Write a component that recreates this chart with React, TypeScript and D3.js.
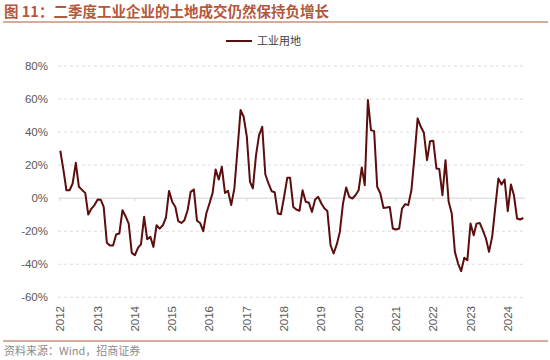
import React from "react";
import * as d3 from "d3";

const title = "图 11：二季度工业企业的土地成交仍然保持负增长";
const source = "资料来源：Wind，招商证券";
const seriesName = "工业用地";
const startMonth = new Date(2012, 0, 1);
const endMonth = new Date(2024, 5, 1);
const yTicks = [-60, -40, -20, 0, 20, 40, 60, 80];
const yearLabels = ["2012", "2013", "2014", "2015", "2016", "2017", "2018", "2019", "2020", "2021", "2022", "2023", "2024"];

// monthly YoY (%) Jan 2012 – Jun 2024
const values = [
  28.7, 17, 4.8, 4.8, 8.9, 21.4, 6.9, 5, 3.2, -9.9, -6.3, -4.2,
  -0.8, -1, -5.3, -27, -28.7, -28.7, -22, -21.4, -7.3, -10.9, -15.4, -33.1,
  -34.5, -29.9, -28, -11.3, -24.8, -23.4, -29.5, -16.4, -18.4, -16.4, -11.7, 4.4,
  -2.2, -5.3, -13.9, -15, -13.3, -7.3, 3.8, 5.3, -13.7, -15, -20, -9.3,
  -3.2, 3.2, 17.4, 11.3, 19, 3.2, 4.4, -4.2, 5.9, 29, 53.3, 49.3,
  37.2, 9.9, 5.9, 26, 38.2, 43.2, 14.5, 8.9, 4.2, 3.6, -9.3, -9.7,
  0.8, 12.3, 12.3, -5.3, -6.9, -7.6, 4.8, -2.2, -2.8, -8.3, -0.8, 0.8,
  -3.2, -6.3, -7.8, -28.5, -33.5, -28, -20.4, -3.2, 6.5, 0.8, -0.2, 1.8,
  4.8, 18.6, 7.9, 59.4, 41.2, 40.6, 6.9, 2.8, -5.9, -5.7, -5.3, -18.4,
  -19, -18.4, -6.3, -3.6, -4.2, 4.8, 25, 48.3, 43.2, 39.6, 23, 34.5,
  34.8, 18, 17.6, 1.8, 23, -2.2, -9.3, -32.5, -39.6, -44.2, -36, -37.6,
  -15.4, -22.4, -15.4, -15, -19.4, -24.4, -32.5, -23.4, -5.3, 11.9, 8.3, 11.3,
  -7.9, 8.3, 1.8, -12.3, -12.9, -12,
];

export default function App() {
  const W = 550, H = 360;
  const plotL = 58, plotR = 525;
  const months = d3.timeMonth.range(startMonth, d3.timeMonth.offset(endMonth, 1));
  const x = d3.scaleTime().domain([startMonth, endMonth]).range([60.3, 523.3]);
  const y = d3.scaleLinear().domain([-60, 80]).range([297.3, 66]);
  const data = months.map((d, i) => ({ d, v: values[i] })).filter((p) => p.v !== undefined);
  const line = d3.line<{ d: Date; v: number }>().x((p) => x(p.d)).y((p) => y(p.v));
  const years = yearLabels.map((s) => new Date(+s, 0, 1));
  const font = "'Liberation Sans', Arial, sans-serif";
  const cjk = "'Noto Sans CJK SC', sans-serif";

  return (
    <svg width={W} height={H} style={{ position: "absolute", left: 0, top: 0, background: "#fff" }}>
      <text x={4} y={17} fontFamily={cjk} fontWeight="bold" fontSize={14.5} fill="#b5573b">{title}</text>
      <line x1={3} x2={548} y1={22} y2={22} stroke="#c9917a" strokeWidth={1.5} />

      <line x1={226} x2={252} y1={41} y2={41} stroke="#5c0d0d" strokeWidth={2} />
      <text x={257} y={45} fontFamily={cjk} fontSize={11} fill="#404040">{seriesName}</text>

      {yTicks.map((t) => (
        <g key={t}>
          <line x1={plotL} x2={plotR} y1={y(t)} y2={y(t)}
            stroke={t === 0 ? "#d4d4d4" : "#dcdcdc"} strokeWidth={1}
            strokeDasharray={t === 0 ? undefined : "3,3"} />
          <text x={48} y={y(t) + 4} textAnchor="end" fontFamily={font} fontSize={11.5} fill="#595959">{`${t}%`}</text>
        </g>
      ))}
      {years.map((d, i) => (
        <g key={i}>
          <line x1={x(d)} x2={x(d)} y1={y(0)} y2={y(0) + 3} stroke="#d4d4d4" />
          <text transform={`translate(${x(d) + 4},306) rotate(-90)`} textAnchor="end"
            fontFamily={font} fontSize={11.5} fill="#595959">{yearLabels[i]}</text>
        </g>
      ))}

      <path d={line(data) || ""} fill="none" stroke="#5c0d0d" strokeWidth={2} strokeLinejoin="round" />

      <line x1={3} x2={548} y1={341} y2={341} stroke="#c9917a" strokeWidth={1.5} />
      <text x={4} y={355} fontFamily={cjk} fontSize={11} fill="#8c8c8c">{source}</text>
    </svg>
  );
}
